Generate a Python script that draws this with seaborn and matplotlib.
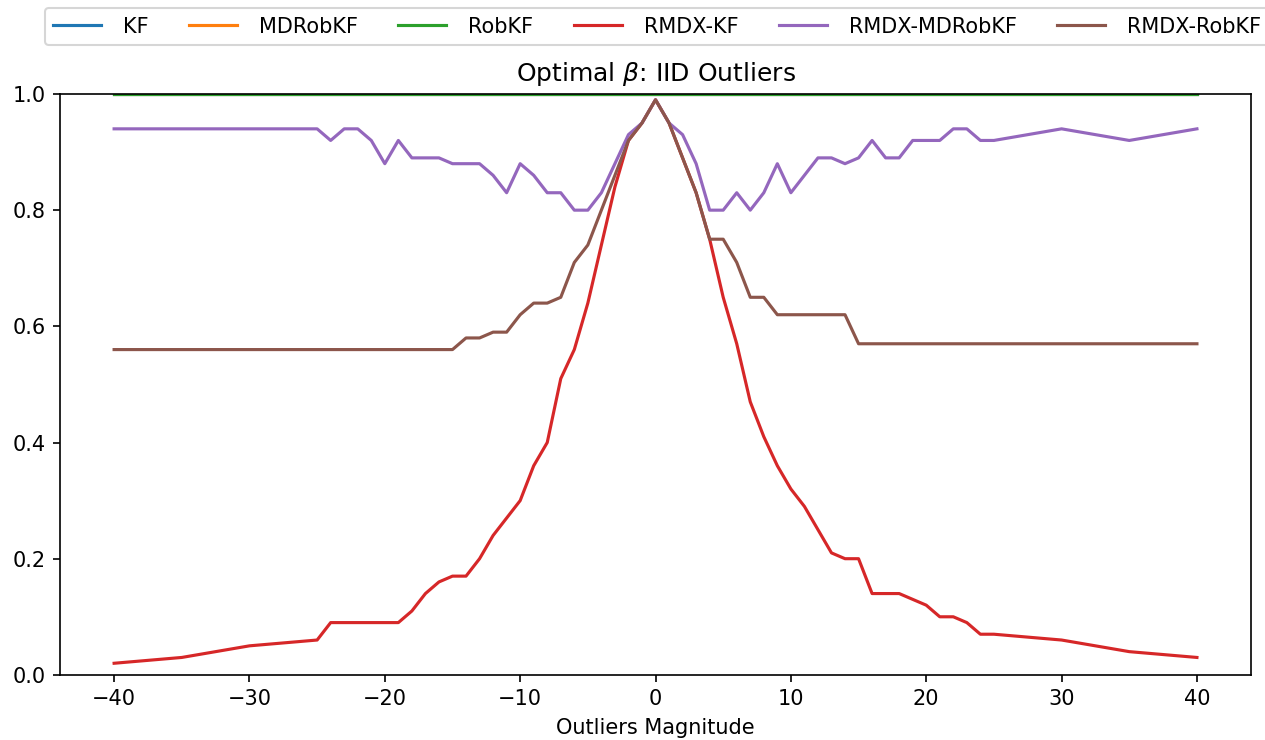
import matplotlib
matplotlib.use("Agg")
import matplotlib.pyplot as plt
import seaborn as sns
import pandas as pd

magnitudes = [-40, -35, -30, -25,
              -24, -23, -22, -21, -20, -19, -18, -17, -16, -15,
              -14, -13, -12, -11, -10, -9, -8, -7, -6, -5,
              -4, -3, -2, -1, 0, 1, 2, 3, 4, 5,
              6, 7, 8, 9, 10, 11, 12, 13, 14, 15,
              16, 17, 18, 19, 20, 21, 22, 23, 24, 25,
              30, 35, 40]

kf = [1.0] * len(magnitudes)
mdrobkf = [1.0] * len(magnitudes)
robkf = [1.0] * len(magnitudes)

rmdx_kf = [0.02, 0.03, 0.05, 0.06,
           0.09, 0.09, 0.09, 0.09, 0.09, 0.09, 0.11, 0.14, 0.16, 0.17,
           0.17, 0.20, 0.24, 0.27, 0.30, 0.36, 0.40, 0.51, 0.56, 0.64,
           0.74, 0.84, 0.92, 0.95, 0.99, 0.95, 0.89, 0.83, 0.75, 0.65,
           0.57, 0.47, 0.41, 0.36, 0.32, 0.29, 0.25, 0.21, 0.20, 0.20,
           0.14, 0.14, 0.14, 0.13, 0.12, 0.10, 0.10, 0.09, 0.07, 0.07,
           0.06, 0.04, 0.03]

rmdx_mdrobkf = [0.94, 0.94, 0.94, 0.94,
                0.92, 0.94, 0.94, 0.92, 0.88, 0.92, 0.89, 0.89, 0.89, 0.88,
                0.88, 0.88, 0.86, 0.83, 0.88, 0.86, 0.83, 0.83, 0.80, 0.80,
                0.83, 0.88, 0.93, 0.95, 0.99, 0.95, 0.93, 0.88, 0.80, 0.80,
                0.83, 0.80, 0.83, 0.88, 0.83, 0.86, 0.89, 0.89, 0.88, 0.89,
                0.92, 0.89, 0.89, 0.92, 0.92, 0.92, 0.94, 0.94, 0.92, 0.92,
                0.94, 0.92, 0.94]

rmdx_robkf = [0.56, 0.56, 0.56, 0.56,
              0.56, 0.56, 0.56, 0.56, 0.56, 0.56, 0.56, 0.56, 0.56, 0.56,
              0.58, 0.58, 0.59, 0.59, 0.62, 0.64, 0.64, 0.65, 0.71, 0.74,
              0.80, 0.86, 0.92, 0.95, 0.99, 0.95, 0.89, 0.83, 0.75, 0.75,
              0.71, 0.65, 0.65, 0.62, 0.62, 0.62, 0.62, 0.62, 0.62, 0.57,
              0.57, 0.57, 0.57, 0.57, 0.57, 0.57, 0.57, 0.57, 0.57, 0.57,
              0.57, 0.57, 0.57]

methods = ["KF", "MDRobKF", "RobKF", "RMDX-KF", "RMDX-MDRobKF", "RMDX-RobKF"]
series = [kf, mdrobkf, robkf, rmdx_kf, rmdx_mdrobkf, rmdx_robkf]


def load_dataframe():
    frames = []
    for name, vals in zip(methods, series):
        frames.append(pd.DataFrame({"Outliers Magnitude": magnitudes,
                                    "beta": vals, "Method": name}))
    return pd.concat(frames, ignore_index=True)


def main():
    df = load_dataframe()
    fig, ax = plt.subplots(figsize=(1265 / 150, 740 / 150), dpi=150)
    sns.lineplot(data=df, x="Outliers Magnitude", y="beta", hue="Method",
                 hue_order=methods, palette="tab10", ax=ax, linewidth=1.5)
    ax.set_ylim(0, 1.0)
    ax.set_ylabel(None)
    ax.set_title(r"Optimal $\beta$: IID Outliers")
    handles, labels = ax.get_legend_handles_labels()
    ax.get_legend().remove()
    fig.legend(handles, labels, loc="upper center", ncol=6,
               bbox_to_anchor=(0.5195, 1.003), handlelength=2.3,
               handletextpad=1.05, columnspacing=1.95)
    fig.subplots_adjust(left=0.0474, right=0.989, top=0.873, bottom=0.088)
    fig.savefig("out.png", dpi=150)


if __name__ == "__main__":
    main()
